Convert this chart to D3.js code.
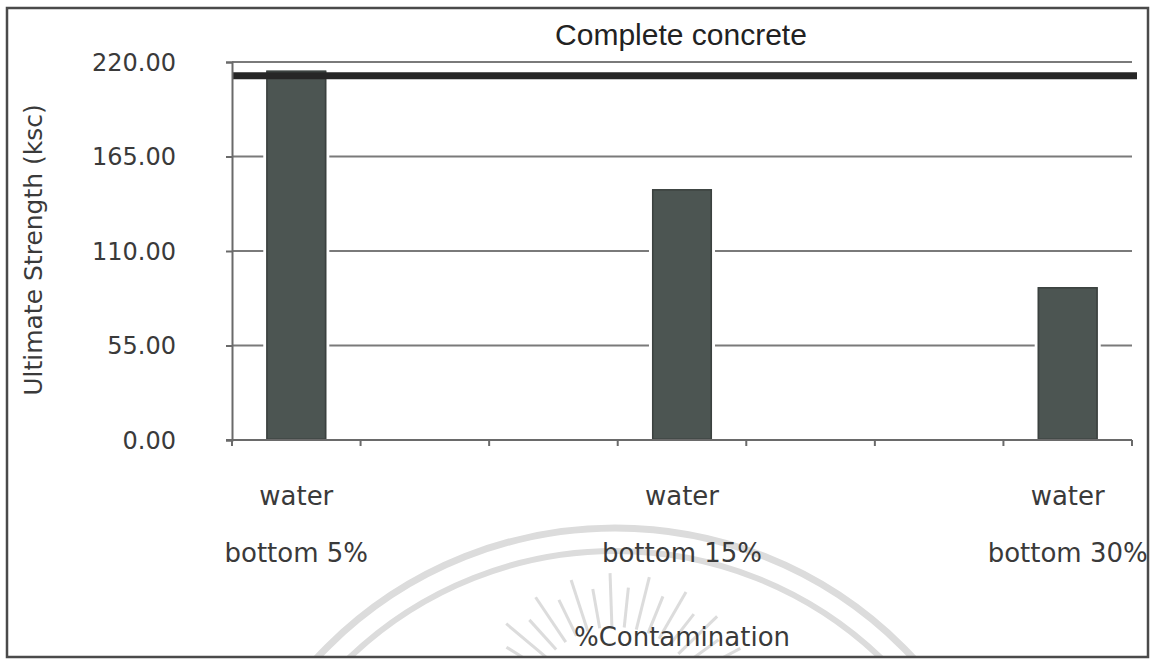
<!DOCTYPE html>
<html>
<head>
<meta charset="utf-8">
<script src="https://cdn.jsdelivr.net/npm/d3@7"></script>
<style>
  html, body { margin: 0; padding: 0; background: #fff; }
  svg { display: block; }
</style>
</head>
<body>
<svg id="chart" width="1160" height="664"></svg>
<script>
// Category slots along the x axis (blank slots separate the three test groups)
const categoryLine1 = ["water", "", "", "water", "", "", "water"];
const categoryLine2 = ["bottom 5%", "", "", "bottom 15%", "", "", "bottom 30%"];
// Ultimate strength per slot (ksc); null = no bar
const strengths = [215, null, null, 146, null, null, 89];
// Strength of the reference (control) concrete, drawn as a heavy line
const referenceStrength = [212];
// Y axis ticks
const yTicks = [0, 55, 110, 165, 220];

const title = "Complete concrete";
const yTitle = "Ultimate Strength (ksc)";
const xTitle = "%Contamination";

const W = 1160, H = 664;
const plot = { left: 232, right: 1132, top: 62, bottom: 440 };

const svg = d3.select("#chart");

// Outer frame clip
svg.append("defs").append("clipPath").attr("id", "frameClip")
  .append("rect").attr("x", 8).attr("y", 9).attr("width", 1139).attr("height", 647);

const root = svg.append("g").attr("clip-path", "url(#frameClip)");

// Faint seal in the page background
const seal = root.append("g").attr("fill", "none").attr("stroke", "#dcdcdc");
const sealCx = 615, sealCy = 935;
seal.append("circle").attr("cx", sealCx).attr("cy", sealCy).attr("r", 407).attr("stroke-width", 7);
seal.append("circle").attr("cx", sealCx).attr("cy", sealCy).attr("r", 384).attr("stroke-width", 6);
const rayCx = 615, rayCy = 715;
d3.range(-172, -5, 8).forEach((a, i) => {
  const rad = a * Math.PI / 180;
  const r0 = 88, r1 = i % 2 ? 128 : 142;
  seal.append("line")
    .attr("x1", rayCx + r0 * Math.cos(rad)).attr("y1", rayCy + r0 * Math.sin(rad))
    .attr("x2", rayCx + r1 * Math.cos(rad)).attr("y2", rayCy + r1 * Math.sin(rad))
    .attr("stroke-width", 3);
});

// Scales
const x = d3.scaleBand()
  .domain(d3.range(strengths.length))
  .range([plot.left, plot.right])
  .paddingInner(0.533)
  .paddingOuter(0.2665);

const y = d3.scaleLinear().domain([0, 220]).range([plot.bottom, plot.top]);

const fontLabel = "'DejaVu Sans', Verdana, sans-serif";
const textColor = "#3a3a3a";

// Gridlines (above zero)
root.append("g").selectAll("line")
  .data(yTicks.filter(d => d > 0))
  .join("line")
  .attr("x1", plot.left).attr("x2", plot.right)
  .attr("y1", d => y(d)).attr("y2", d => y(d))
  .attr("stroke", "#7a7a7a").attr("stroke-width", 2);

// Bars with a white halo that breaks the gridlines
const barData = strengths.map((v, i) => ({ i, v })).filter(d => d.v != null);
root.append("g").selectAll("rect")
  .data(barData)
  .join("rect")
  .attr("x", d => x(d.i))
  .attr("y", d => y(d.v))
  .attr("width", x.bandwidth())
  .attr("height", d => y(0) - y(d.v))
  .attr("fill", "#4c5552")
  .attr("stroke", "#fff").attr("stroke-width", 6)
  .attr("paint-order", "stroke");
root.append("g").selectAll("rect")
  .data(barData)
  .join("rect")
  .attr("x", d => x(d.i) + 0.75)
  .attr("y", d => y(d.v) + 0.75)
  .attr("width", x.bandwidth() - 1.5)
  .attr("height", d => y(0) - y(d.v) - 1.5)
  .attr("fill", "#4c5552")
  .attr("stroke", "#3b413f").attr("stroke-width", 1.5);

// Reference strength line
root.append("g").selectAll("line")
  .data(referenceStrength)
  .join("line")
  .attr("x1", plot.left).attr("x2", plot.right + 5)
  .attr("y1", d => y(d)).attr("y2", d => y(d))
  .attr("stroke", "#262626").attr("stroke-width", 7);

// Y axis
const yAxis = d3.axisLeft(y).tickValues(yTicks).tickSize(6).tickPadding(50)
  .tickFormat(d3.format(".2f"));
const gy = root.append("g").attr("transform", `translate(${plot.left},0)`).call(yAxis);
gy.select(".domain").attr("stroke", "#6a6a6a").attr("stroke-width", 2);
gy.selectAll(".tick line").attr("stroke", "#6a6a6a").attr("stroke-width", 2);
gy.selectAll(".tick text")
  .attr("font-family", fontLabel).attr("font-size", 24)
  .attr("fill", textColor).attr("dy", "0.35em");

// X axis: ticks on band boundaries
const boundaries = d3.range(strengths.length + 1)
  .map(k => plot.left + x.step() * k);
const gx = root.append("g");
gx.append("line")
  .attr("x1", plot.left - 6).attr("x2", plot.right)
  .attr("y1", y(0)).attr("y2", y(0))
  .attr("stroke", "#6a6a6a").attr("stroke-width", 2);
gx.selectAll("line.tick")
  .data(boundaries)
  .join("line").attr("class", "tick")
  .attr("x1", d => d).attr("x2", d => d)
  .attr("y1", y(0)).attr("y2", y(0) + 6)
  .attr("stroke", "#6a6a6a").attr("stroke-width", 2);

// Category labels (two lines)
const cats = root.append("g")
  .attr("font-family", fontLabel).attr("font-size", 26)
  .attr("fill", textColor).attr("text-anchor", "middle");
cats.selectAll("text.l1")
  .data(categoryLine1.map((t, i) => ({ t, i })).filter(d => d.t))
  .join("text").attr("class", "l1")
  .attr("x", d => x(d.i) + x.bandwidth() / 2)
  .attr("y", 505)
  .text(d => d.t);
cats.selectAll("text.l2")
  .data(categoryLine2.map((t, i) => ({ t, i })).filter(d => d.t))
  .join("text").attr("class", "l2")
  .attr("x", d => x(d.i) + x.bandwidth() / 2)
  .attr("y", 562)
  .text(d => d.t);

// Titles
root.append("text")
  .attr("x", 681).attr("y", 45)
  .attr("text-anchor", "middle")
  .attr("font-family", "'Liberation Sans', Arial, sans-serif")
  .attr("font-size", 30).attr("fill", "#222")
  .text(title);

root.append("text")
  .attr("transform", "translate(42,250) rotate(-90)")
  .attr("text-anchor", "middle")
  .attr("font-family", fontLabel).attr("font-size", 25)
  .attr("fill", textColor)
  .text(yTitle);

root.append("text")
  .attr("x", 682).attr("y", 646)
  .attr("text-anchor", "middle")
  .attr("font-family", fontLabel).attr("font-size", 26)
  .attr("fill", textColor)
  .text(xTitle);

// Outer frame
svg.append("rect")
  .attr("x", 7).attr("y", 8).attr("width", 1141).attr("height", 649)
  .attr("fill", "none").attr("stroke", "#4a4a4a").attr("stroke-width", 2.5);
</script>
</body>
</html>
